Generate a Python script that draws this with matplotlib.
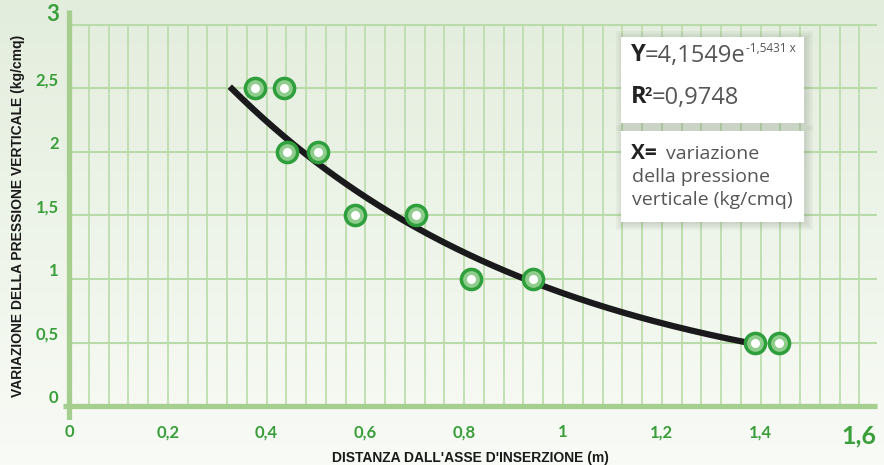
import numpy as np
import matplotlib.pyplot as plt
from matplotlib.patches import Rectangle

# data
dist = [0.377, 0.435, 0.441, 0.504, 0.579, 0.702, 0.814, 0.939, 1.389, 1.437]
press = [2.5, 2.5, 2.0, 2.0, 1.5, 1.5, 1.0, 1.0, 0.5, 0.5]
fit_a = 4.1549
fit_b = -1.5431
fit_range = [0.33, 1.375]
xticks = [0, 0.2, 0.4, 0.6, 0.8, 1.0, 1.2, 1.4, 1.6]
xlabels = ["0", "0,2", "0,4", "0,6", "0,8", "1", "1,2", "1,4", "1,6"]
yticks = [0, 0.5, 1, 1.5, 2, 2.5, 3]
ylabels = ["0", "0,5", "1", "1,5", "2", "2,5", "3"]

W, H = 884, 465
GREEN = "#3a9e3a"
GRID = "#b9dba9"
AXIS = "#a6cf8f"
font = ["Open Sans", "DejaVu Sans"]
tickfont = ["Lato", "DejaVu Sans"]
narrow = ["Liberation Sans Narrow", "Liberation Sans", "DejaVu Sans"]

def fx(px):
    return px / W

def fy(py):
    return 1 - py / H

fig = plt.figure(figsize=(W / 100, H / 100), dpi=100)

# background gradient
bg = fig.add_axes([0, 0, 1, 1], zorder=-10)
grad = np.linspace(0, 1, 256).reshape(-1, 1)
top = np.array([0.890, 0.930, 0.865])
bot = np.array([0.975, 0.985, 0.965])
img = top + (bot - top) * grad[..., None]
bg.imshow(img, aspect="auto", extent=[0, 1, 0, 1], origin="upper")
bg.axis("off")

# axes: x_px = 69 + 494*x, y_px = 406 - 127*y
x0, sx = 69, 494
y0, sy = 406, 127
ax = fig.add_axes([fx(60), fy(420), fx(884 - 60), (420 - 0) / H])
ax.set_xlim((60 - x0) / sx, (884 - x0) / sx)
ax.set_ylim((y0 - 420) / sy, y0 / sy)
ax.patch.set_alpha(0)
for s in ax.spines.values():
    s.set_visible(False)

xmax = 1.636
ax.vlines(np.arange(0.04, xmax, 0.04), 0, 3, color=GRID, lw=1.2, zorder=1)
ax.hlines(yticks[1:], 0, xmax, color=GRID, lw=1.5, zorder=1)
ax.plot([0, 0], [-0.11, 3.12], color=AXIS, lw=3.8, solid_capstyle="butt", zorder=2)
ax.plot([-0.012, xmax], [0, 0], color=AXIS, lw=3.8, solid_capstyle="butt", zorder=2)

# fitted curve
xf = np.linspace(fit_range[0], fit_range[1], 200)
ax.plot(xf, fit_a * np.exp(fit_b * xf), color="#1a1a1c", lw=4.5, zorder=3)

# ring markers
ax.scatter(dist, press, s=290, color="#2f9e3c", zorder=4, linewidths=0)
ax.scatter(dist, press, s=145, color="#8fcd8c", zorder=5, linewidths=0)
ax.scatter(dist, press, s=42, color="white", zorder=6, linewidths=0)

ax.set_xticks(xticks, xlabels)
ax.set_yticks(yticks, ylabels)
ax.tick_params(length=0)
ax.tick_params(axis="x", pad=3, labelsize=12, labelcolor=GREEN)
ax.tick_params(axis="y", pad=1, labelsize=12, labelcolor=GREEN)
for t in ax.get_xticklabels() + ax.get_yticklabels():
    t.set_fontweight("bold")
    t.set_family(tickfont)
ax.get_xticklabels()[-1].set_fontsize(18)
ax.get_yticklabels()[-1].set_fontsize(16)
for t in ax.get_yticklabels():
    t.set_verticalalignment("bottom")

fig.text(fx(470), fy(458), "DISTANZA DALL'ASSE D'INSERZIONE (m)", ha="center", va="center",
         fontsize=10, fontweight="bold", family=narrow, color="#1a1a1a")
fig.text(fx(18), fy(216), "VARIAZIONE DELLA PRESSIONE VERTICALE (kg/cmq)", ha="center", va="center",
         rotation=90, fontsize=10, fontweight="bold", family=narrow, color="#1a1a1a")

# text boxes with soft shadow
for (bx0, by0, bx1, by1) in [(621, 37, 804, 123), (621, 131, 804, 222)]:
    for i in range(4):
        d = 2 + 2 * i
        fig.patches.append(Rectangle((fx(bx0 - d + 3), fy(by1 + d)), fx(bx1 - bx0 + 2 * d - 2), (by1 - by0 + 2 * d - 2) / H,
                                     transform=fig.transFigure, color="#556050", alpha=0.05, lw=0, zorder=7))
    fig.patches.append(Rectangle((fx(bx0), fy(by1)), fx(bx1 - bx0), (by1 - by0) / H,
                                 transform=fig.transFigure, color="white", lw=0, zorder=8))

TXT = "#555555"
DARK = "#222222"
fig.text(fx(631), fy(55), "Y", fontsize=17, fontweight="bold", color=DARK, family=font, va="center", zorder=9)
fig.text(fx(645), fy(56), "=4,1549e", fontsize=17, color=TXT, family=font, va="center", zorder=9)
fig.text(fx(746), fy(49), "-1,5431 x", fontsize=8.5, color=TXT, family=font, va="center", zorder=9)
fig.text(fx(631), fy(97), "R", fontsize=17, fontweight="bold", color=DARK, family=font, va="center", zorder=9)
fig.text(fx(645), fy(92), "2", fontsize=9, fontweight="bold", color=DARK, family=font, va="center", zorder=9)
fig.text(fx(652), fy(98), "=0,9748", fontsize=17, color=TXT, family=font, va="center", zorder=9)
fig.text(fx(631), fy(153), "X=", fontsize=15, fontweight="bold", color=DARK, family=font, va="center", zorder=9)
fig.text(fx(666), fy(154), "variazione", fontsize=14, color=TXT, family=font, va="center", zorder=9)
fig.text(fx(632), fy(177), "della pressione", fontsize=14, color=TXT, family=font, va="center", zorder=9)
fig.text(fx(632), fy(200), "verticale (kg/cmq)", fontsize=14, color=TXT, family=font, va="center", zorder=9)

fig.savefig("out.png", dpi=100)
